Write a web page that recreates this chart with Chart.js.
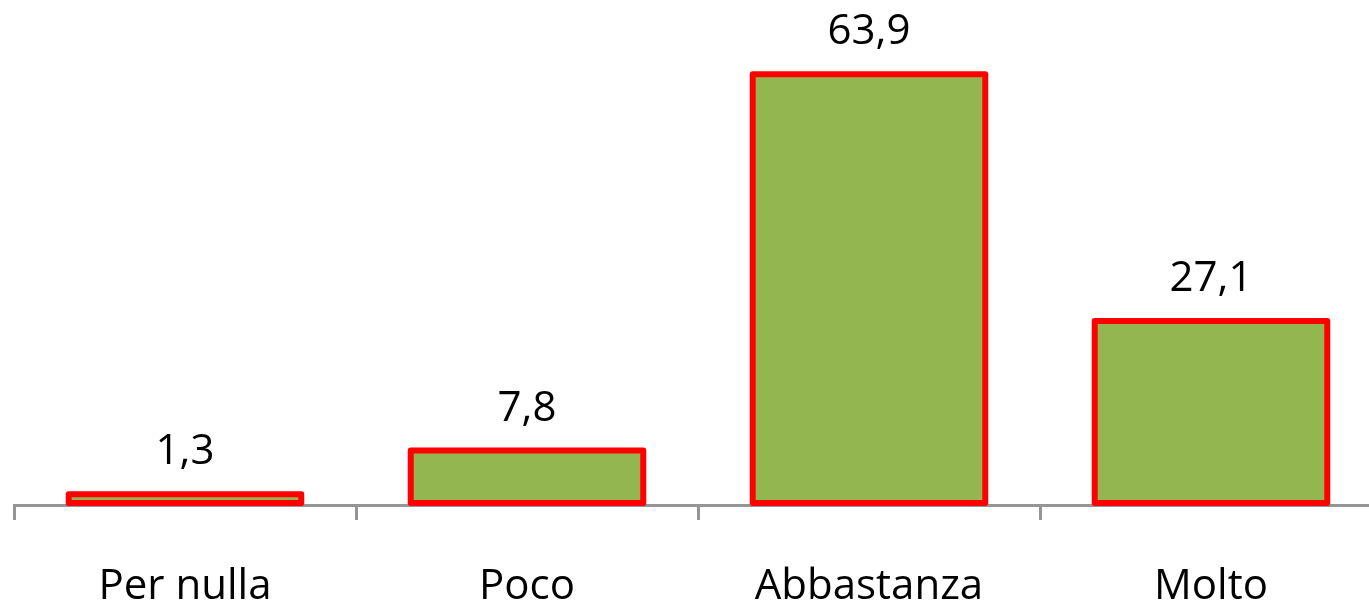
<!DOCTYPE html>
<html>
<head>
<meta charset="utf-8">
<script src="https://cdn.jsdelivr.net/npm/chart.js@4/dist/chart.umd.min.js"></script>
<style>
  html, body { margin: 0; padding: 0; background: #ffffff; overflow: hidden; }
  #wrap { position: relative; width: 1400px; height: 606px; }
</style>
</head>
<body>
<div id="wrap"><canvas id="chart"></canvas></div>
<script>
// Risposte al quesito, valori percentuali
const categories = ['Per nulla', 'Poco', 'Abbastanza', 'Molto'];
const values = [1.3, 7.8, 63.9, 27.1];

const FONT = { family: '"Open Sans", sans-serif', size: 42 };
const AXIS_GREY = '#959595';
const BAR_OUTLINE = 6;

// Contorno rosso centrato sul bordo di ogni barra (come nei grafici da foglio di calcolo)
const barOutline = {
  id: 'barOutline',
  afterDatasetsDraw(chart) {
    const ctx = chart.ctx;
    const meta = chart.getDatasetMeta(0);
    ctx.save();
    ctx.strokeStyle = '#ff0000';
    ctx.lineWidth = BAR_OUTLINE;
    ctx.lineJoin = 'round';
    meta.data.forEach((bar) => {
      const { x, y, base, width } = bar.getProps(['x', 'y', 'base', 'width'], true);
      ctx.strokeRect(x - width / 2, y, width, base - y);
    });
    ctx.restore();
  }
};

// Etichette dei valori sopra le barre, con la virgola decimale
const valueLabels = {
  id: 'valueLabels',
  afterDatasetsDraw(chart) {
    const ctx = chart.ctx;
    const meta = chart.getDatasetMeta(0);
    ctx.save();
    ctx.font = `${FONT.size}px ${FONT.family}`;
    ctx.fillStyle = '#000000';
    ctx.textAlign = 'center';
    ctx.textBaseline = 'alphabetic';
    meta.data.forEach((bar, i) => {
      const txt = values[i].toFixed(1).replace('.', ',');
      ctx.fillText(txt, bar.x, bar.y - 30);
    });
    ctx.restore();
  }
};

new Chart(document.getElementById('chart'), {
  type: 'bar',
  data: {
    labels: categories,
    datasets: [{
      data: values,
      backgroundColor: '#94b650',
      borderWidth: 0,
      categoryPercentage: 1.0,
      barPercentage: 0.68
    }]
  },
  options: {
    responsive: true,
    maintainAspectRatio: false,
    animation: false,
    layout: { padding: { left: 14, right: 18, top: 30, bottom: 0 } },
    plugins: {
      legend: { display: false },
      tooltip: { enabled: false }
    },
    scales: {
      x: {
        z: 1,
        offset: true,
        afterFit(scale) { scale.height = 101; },
        grid: {
          offset: true,
          display: true,
          drawOnChartArea: false,
          drawTicks: true,
          tickLength: 15,
          color: AXIS_GREY,
          lineWidth: 3
        },
        border: { display: true, color: AXIS_GREY, width: 3 },
        ticks: {
          color: '#000000',
          font: FONT,
          padding: 42,
          maxRotation: 0
        }
      },
      y: {
        display: false,
        min: -0.31,
        max: 70.48
      }
    }
  },
  plugins: [barOutline, valueLabels]
});
</script>
</body>
</html>
